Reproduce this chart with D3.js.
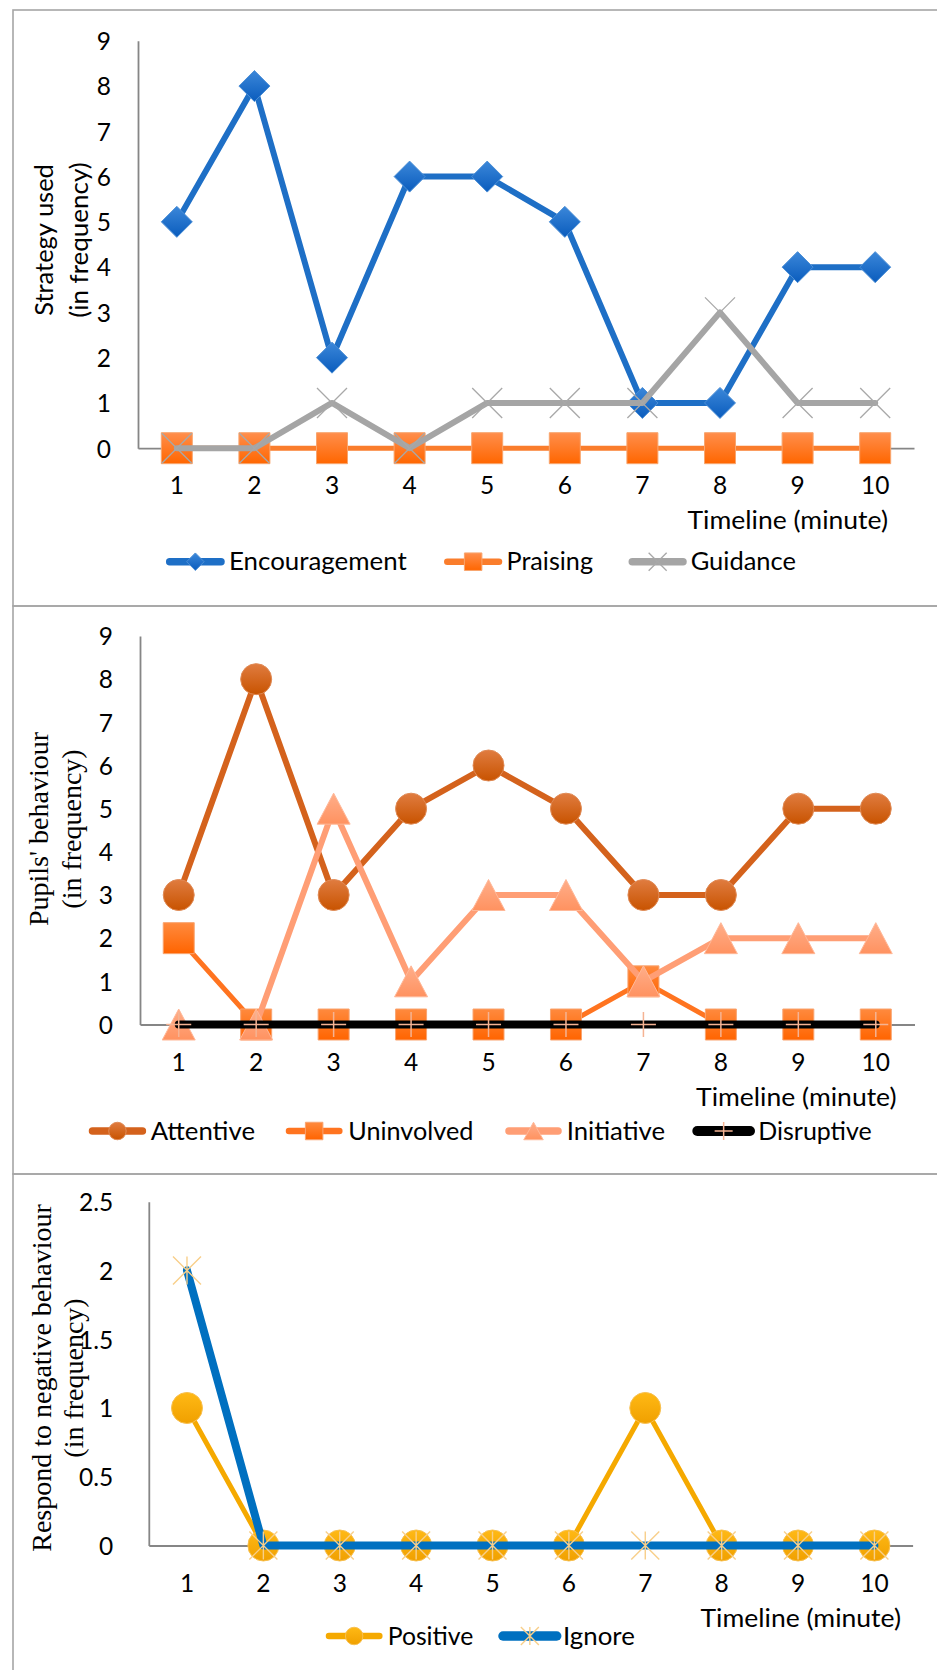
<!DOCTYPE html>
<html>
<head>
<meta charset="utf-8">
<script src="https://cdn.jsdelivr.net/npm/d3@7"></script>
<style>
  html, body { margin: 0; padding: 0; background: #fff; }
  svg { display: block; }
</style>
</head>
<body>
<svg id="fig" width="937" height="1670"></svg>
<script>
// ---- data -------------------------------------------------------------
const minutes = [1, 2, 3, 4, 5, 6, 7, 8, 9, 10];

// teacher strategy used per minute
const encouragement = [5, 8, 2, 6, 6, 5, 1, 1, 4, 4];
const praising      = [0, 0, 0, 0, 0, 0, 0, 0, 0, 0];
const guidance      = [0, 0, 1, 0, 1, 1, 1, 3, 1, 1];

// pupils' behaviour per minute
const attentive  = [3, 8, 3, 5, 6, 5, 3, 3, 5, 5];
const uninvolved = [2, 0, 0, 0, 0, 0, 1, 0, 0, 0];
const initiative = [0, 0, 5, 1, 3, 3, 1, 2, 2, 2];
const disruptive = [0, 0, 0, 0, 0, 0, 0, 0, 0, 0];

// responses to negative behaviour per minute
const positive = [1, 0, 0, 0, 0, 0, 1, 0, 0, 0];
const ignore   = [2, 0, 0, 0, 0, 0, 0, 0, 0, 0];

const countTicks    = [0, 1, 2, 3, 4, 5, 6, 7, 8, 9];
const responseTicks = [0, 0.5, 1, 1.5, 2, 2.5];
const xTitle = "Timeline (minute)";

// ---- styling ------------------------------------------------------------
const SANS  = "Lato, 'Open Sans', sans-serif";
const SERIF = "'Liberation Serif', 'Times New Roman', serif";
const AXIS  = "#868686";
const FRAME = "#a6a6a6";

const svg = d3.select("#fig");
const defs = svg.append("defs");

let gradCount = 0;
function gradient(top, bottom) {
  const id = "g" + (gradCount++);
  const g = defs.append("linearGradient").attr("id", id)
    .attr("x1", 0).attr("y1", 0).attr("x2", 0).attr("y2", 1);
  g.append("stop").attr("offset", "0%").attr("stop-color", top);
  g.append("stop").attr("offset", "100%").attr("stop-color", bottom);
  return `url(#${id})`;
}

// marker shapes, centred on (0,0); s = full box size
const shapes = {
  diamond:  s => `M0,${-s/2}L${s/2},0L0,${s/2}L${-s/2},0Z`,
  square:   s => `M${-s/2},${-s/2}h${s}v${s}h${-s}Z`,
  circle:   s => `M${-s/2},0a${s/2},${s/2} 0 1,0 ${s},0a${s/2},${s/2} 0 1,0 ${-s},0Z`,
  triangle: s => `M0,${-s/2}L${s/2+1},${s/2}L${-s/2-1},${s/2}Z`,
  cross:    s => `M${-s/2},${-s/2}L${s/2},${s/2}M${s/2},${-s/2}L${-s/2},${s/2}`,
  plus:     s => `M${-s/2},0H${s/2}M0,${-s/2}V${s/2}`,
  star:     s => `M${-s/2},${-s/2}L${s/2},${s/2}M${s/2},${-s/2}L${-s/2},${s/2}M0,${-s/2}V${s/2}`
};
const openShapes = new Set(["cross", "plus", "star"]);

function drawMarker(g, m, size) {
  const p = g.append("path").attr("d", shapes[m.type](size));
  if (openShapes.has(m.type)) {
    p.attr("fill", "none").attr("stroke", m.stroke).attr("stroke-width", m.strokeWidth || 1.3);
  } else {
    p.attr("fill", m.fill).attr("stroke", m.stroke).attr("stroke-width", 1);
  }
  return p;
}

// ---- panels -------------------------------------------------------------
const panels = [
  {
    frameTop: 10, frameBottom: 606,
    plot: { left: 138, right: 914, top: 40.8, zero: 448.2 },
    yMax: 9, ticks: countTicks, tickGap: 27,
    yTitle: ["Strategy used", "(in frequency)"], titleFont: SANS, titleSize: 27,
    titleX: [52.5, 88], titleCY: 240, titleLen: [151.7, 155.5],
    xTitleRight: 888,
    legendY: 561.7,
    series: [
      { name: "Encouragement", values: encouragement, color: "#1e6fc6", width: 6,
        marker: { type: "diamond", size: 31, fill: gradient("#3b87d9", "#0a5cbd"), stroke: "#4c8fd6" },
        legend: { x0: 165.7, x1: 225, tx: 229, tw: 177.7 } },
      { name: "Praising", values: praising, color: "#fa7d2c", width: 5,
        marker: { type: "square", size: 31, fill: gradient("#ff8e4c", "#ff6600"), stroke: "#f8a56e" },
        legend: { x0: 443.3, x1: 503, tx: 506.5, tw: 86.5 } },
      { name: "Guidance", values: guidance, color: "#a5a5a5", width: 6,
        marker: { type: "cross", size: 30, stroke: "#a8a8a8", strokeWidth: 1.3 },
        legend: { x0: 628.3, x1: 687, tx: 690.7, tw: 105.3 } }
    ]
  },
  {
    frameTop: 606, frameBottom: 1174,
    plot: { left: 140, right: 914.5, top: 636, zero: 1024.5 },
    yMax: 9, ticks: countTicks, tickGap: 27,
    yTitle: ["Pupils' behaviour", "(in frequency)"], titleFont: SERIF, titleSize: 28,
    titleX: [47.5, 81], titleCY: 829, titleLen: [null, null],
    xTitleRight: 896.6,
    legendY: 1131,
    series: [
      { name: "Attentive", values: attentive, color: "#d4621c", width: 6,
        marker: { type: "circle", size: 31, fill: gradient("#e07c40", "#c85300"), stroke: "#e08a55" },
        legend: { x0: 88.5, x1: 146.4, tx: 150.7, tw: 104.3 } },
      { name: "Uninvolved", values: uninvolved, color: "#ff7420", width: 5,
        marker: { type: "square", size: 31, fill: gradient("#ff8a3e", "#ff6400"), stroke: "#f9a470" },
        legend: { x0: 285, x1: 343.3, tx: 348.3, tw: 125 } },
      { name: "Initiative", values: initiative, color: "#ff9e75", width: 6,
        marker: { type: "triangle", size: 31, fill: gradient("#ffae8a", "#ff9260"), stroke: "#ffb898" },
        legend: { x0: 505, x1: 562, tx: 566.7, tw: 98.3 } },
      { name: "Disruptive", values: disruptive, color: "#000000", width: 8, legendWidth: 10,
        marker: { type: "plus", size: 25, stroke: "#f5b393", strokeWidth: 1.5 },
        legend: { x0: 693.3, x1: 754, tx: 758.3, tw: 113.4 } }
    ]
  },
  {
    frameTop: 1174, frameBottom: 1720,
    plot: { left: 148.8, right: 912.6, top: 1201.7, zero: 1545.5 },
    yMax: 2.5, ticks: responseTicks, tickGap: 35.5,
    yTitle: ["Respond to negative behaviour", "(in frequency)"], titleFont: SERIF, titleSize: 28,
    titleX: [50.5, 82.5], titleCY: 1378, titleLen: [null, null],
    xTitleRight: 901,
    legendY: 1636,
    series: [
      { name: "Positive", values: positive, color: "#f5a900", width: 5,
        marker: { type: "circle", size: 31, fill: gradient("#ffb915", "#f0a000"), stroke: "#f8c050" },
        legend: { x0: 325, x1: 383.3, tx: 387.7, tw: 85.6 } },
      { name: "Ignore", values: ignore, color: "#0070c0", width: 8,
        marker: { type: "star", size: 28, stroke: "#f8cf8a", strokeWidth: 1.4 },
        legend: { x0: 499, x1: 560.7, tx: 563, tw: 71.8 } }
    ]
  }
];

// ---- panel frames -------------------------------------------------------
panels.forEach(p => {
  svg.append("rect")
    .attr("x", 13).attr("y", p.frameTop)
    .attr("width", 1000).attr("height", p.frameBottom - p.frameTop)
    .attr("fill", "none").attr("stroke", FRAME).attr("stroke-width", 1.6);
});

// ---- draw each chart ----------------------------------------------------
panels.forEach(p => {
  const g = svg.append("g");
  const x = d3.scaleBand().domain(minutes).range([p.plot.left, p.plot.right]).padding(0);
  const cx = d => x(d) + x.bandwidth() / 2;
  const y = d3.scaleLinear().domain([0, p.yMax]).range([p.plot.zero, p.plot.top]);

  // y axis: line + labels, no tick marks
  const yAxis = d3.axisLeft(y).tickValues(p.ticks).tickSize(0).tickPadding(p.tickGap)
    .tickFormat(d3.format("~g"));
  const ya = g.append("g").attr("transform", `translate(${p.plot.left},0)`).call(yAxis);
  ya.select(".domain").attr("stroke", AXIS).attr("stroke-width", 1.8);
  ya.selectAll("text").attr("font-family", SANS).attr("font-size", 24.5)
    .attr("fill", "#000").attr("dy", "0.36em");

  // x axis: line + category labels
  const xAxis = d3.axisBottom(x).tickSize(0).tickPadding(0);
  const xa = g.append("g").attr("transform", `translate(0,${p.plot.zero})`).call(xAxis);
  xa.select(".domain").attr("stroke", AXIS).attr("stroke-width", 1.8);
  xa.selectAll("text").attr("font-family", SANS).attr("font-size", 24.5)
    .attr("fill", "#000").attr("y", 46).attr("dy", 0);

  // axis titles
  g.append("text")
    .attr("x", p.xTitleRight).attr("y", p.plot.zero + 81)
    .attr("text-anchor", "end").attr("font-family", SANS).attr("font-size", 24.5)
    .attr("textLength", 200.5).attr("lengthAdjust", "spacingAndGlyphs")
    .text(xTitle);

  p.yTitle.forEach((line, i) => {
    const t = g.append("text")
      .attr("transform", `translate(${p.titleX[i]},${p.titleCY}) rotate(-90)`)
      .attr("text-anchor", "middle")
      .attr("font-family", p.titleFont)
      .attr("font-size", p.titleFont === SANS ? 24.5 : p.titleSize)
      .text(line);
    if (p.titleLen[i]) t.attr("textLength", p.titleLen[i]).attr("lengthAdjust", "spacingAndGlyphs");
  });

  // series: each line with its markers, in series order
  p.series.forEach(s => {
    const pts = s.values.map((v, i) => [cx(minutes[i]), y(v)]);
    g.append("path")
      .attr("d", d3.line()(pts))
      .attr("fill", "none").attr("stroke", s.color).attr("stroke-width", s.width)
      .attr("stroke-linejoin", "round").attr("stroke-linecap", "round");
    pts.forEach(([px, py]) => {
      const mg = g.append("g").attr("transform", `translate(${px},${py})`);
      drawMarker(mg, s.marker, s.marker.size);
    });
  });

  // legend
  const lg = g.append("g");
  p.series.forEach(s => {
    const L = s.legend;
    lg.append("line")
      .attr("x1", L.x0 + 4).attr("x2", L.x1 - 4)
      .attr("y1", p.legendY).attr("y2", p.legendY)
      .attr("stroke", s.color).attr("stroke-width", s.legendWidth || s.width + 1.5)
      .attr("stroke-linecap", "round");
    const mg = lg.append("g").attr("transform", `translate(${(L.x0 + L.x1) / 2},${p.legendY})`);
    drawMarker(mg, s.marker, openShapes.has(s.marker.type) ? 18 : 17.5);
    lg.append("text")
      .attr("x", L.tx).attr("y", p.legendY + 8.5)
      .attr("font-family", SANS).attr("font-size", 24.5)
      .attr("textLength", L.tw).attr("lengthAdjust", "spacingAndGlyphs")
      .text(s.name);
  });
});
</script>
</body>
</html>
